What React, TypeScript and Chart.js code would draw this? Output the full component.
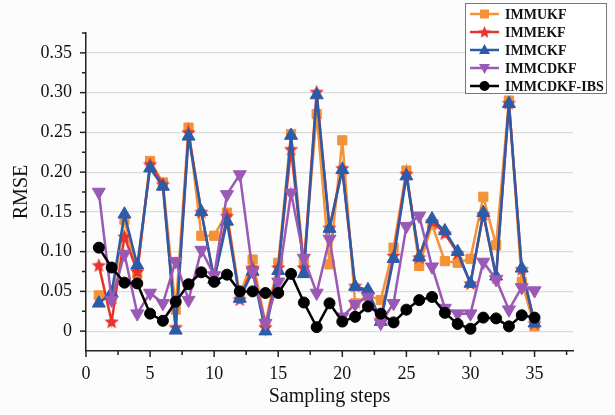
import { useEffect, useRef } from 'react';
import { Chart, registerables } from 'chart.js';

Chart.register(...registerables);

const steps = [1, 2, 3, 4, 5, 6, 7, 8, 9, 10, 11, 12, 13, 14, 15, 16, 17, 18, 19, 20, 21, 22, 23, 24, 25, 26, 27, 28, 29, 30, 31, 32, 33, 34, 35];

const immukf = [0.045, 0.040, 0.140, 0.072, 0.214, 0.187, 0.027, 0.256, 0.120, 0.120, 0.149, 0.045, 0.090, 0.010, 0.086, 0.248, 0.085, 0.273, 0.084, 0.240, 0.035, 0.045, 0.039, 0.105, 0.202, 0.082, 0.134, 0.088, 0.086, 0.091, 0.169, 0.108, 0.290, 0.062, 0.006];
const immekf = [0.083, 0.012, 0.119, 0.075, 0.210, 0.185, 0.005, 0.250, 0.150, 0.065, 0.145, 0.040, 0.080, 0.005, 0.080, 0.229, 0.080, 0.301, 0.130, 0.205, 0.057, 0.047, 0.015, 0.095, 0.198, 0.093, 0.138, 0.123, 0.098, 0.060, 0.147, 0.068, 0.287, 0.078, 0.010];
const immckf = [0.035, 0.048, 0.147, 0.083, 0.205, 0.182, 0.001, 0.245, 0.150, 0.065, 0.138, 0.041, 0.075, 0.000, 0.076, 0.246, 0.072, 0.297, 0.129, 0.203, 0.056, 0.052, 0.012, 0.091, 0.195, 0.093, 0.141, 0.126, 0.100, 0.060, 0.149, 0.069, 0.286, 0.079, 0.010];
const immcdkf = [0.175, 0.039, 0.097, 0.022, 0.048, 0.035, 0.088, 0.039, 0.102, 0.070, 0.172, 0.197, 0.075, 0.010, 0.062, 0.174, 0.092, 0.048, 0.116, 0.018, 0.034, 0.043, 0.010, 0.035, 0.132, 0.145, 0.081, 0.029, 0.022, 0.022, 0.087, 0.065, 0.027, 0.055, 0.051];
const immcdkfIbs = [0.105, 0.080, 0.061, 0.060, 0.022, 0.013, 0.037, 0.059, 0.074, 0.062, 0.071, 0.050, 0.050, 0.048, 0.048, 0.072, 0.036, 0.005, 0.035, 0.012, 0.018, 0.031, 0.022, 0.011, 0.027, 0.039, 0.043, 0.023, 0.009, 0.003, 0.017, 0.016, 0.006, 0.020, 0.017];

const seriesNames = ['IMMUKF', 'IMMEKF', 'IMMCKF', 'IMMCDKF', 'IMMCDKF-IBS'];
const seriesColors = ['#F39236', '#E8322C', '#2C5BA8', '#9B59B6', '#000000'];

const xTickStep = 2.5;
const xMin = 0;
const xMax = 38;
const yTickStep = 0.025;
const yMin = -0.025;
const yMax = 0.375;

const FONT = "'Liberation Serif', 'Times New Roman', serif";

function makeStar(size: number, color: string) {
  const c = document.createElement('canvas');
  c.width = size;
  c.height = size;
  const g = c.getContext('2d')!;
  const cx = size / 2;
  const cy = size / 2 + size * 0.04;
  const R = size / 2;
  const r = R * 0.45;
  g.beginPath();
  for (let i = 0; i < 10; i++) {
    const rad = (Math.PI / 5) * i - Math.PI / 2;
    const rr = i % 2 === 0 ? R : r;
    const px = cx + Math.cos(rad) * rr;
    const py = cy + Math.sin(rad) * rr;
    if (i === 0) g.moveTo(px, py);
    else g.lineTo(px, py);
  }
  g.closePath();
  g.fillStyle = color;
  g.fill();
  return c;
}

function isMultiple(v: number, step: number) {
  const q = v / step;
  return Math.abs(q - Math.round(q)) < 1e-6;
}

export default function App() {
  const canvasRef = useRef<HTMLCanvasElement | null>(null);

  useEffect(() => {
    const canvas = canvasRef.current;
    if (!canvas) return;
    const star = makeStar(15, seriesColors[1]);
    const legendStar = makeStar(13, seriesColors[1]);

    const toPts = (vals: number[]) => steps.map((s, i) => ({ x: s, y: vals[i] }));
    const allValues = [immukf, immekf, immckf, immcdkf, immcdkfIbs];
    const styles: any[] = [
      { pointStyle: 'rect', pointRadius: 6.5, pointRotation: 0 },
      { pointStyle: star, pointRadius: 7, pointRotation: 0 },
      { pointStyle: 'triangle', pointRadius: 7.5, pointRotation: 0 },
      { pointStyle: 'triangle', pointRadius: 7.5, pointRotation: 180 },
      { pointStyle: 'circle', pointRadius: 5.5, pointRotation: 0 },
    ];
    const orders = [4, 3, 2, 1, 0];

    const datasets = allValues.map((vals, i) => ({
      label: seriesNames[i],
      data: toPts(vals),
      borderColor: seriesColors[i],
      backgroundColor: seriesColors[i],
      pointBackgroundColor: seriesColors[i],
      pointBorderColor: seriesColors[i],
      borderWidth: 2.5,
      pointBorderWidth: 1,
      tension: 0,
      order: orders[i],
      ...styles[i],
    }));

    const decor = {
      id: 'decor',
      beforeDraw(chart: any) {
        const ctx = chart.ctx;
        ctx.save();
        ctx.fillStyle = '#fcfcfc';
        ctx.fillRect(0, 0, chart.width, chart.height);
        ctx.restore();
      },
      afterDraw(chart: any) {
        const ctx = chart.ctx;
        const xs = chart.scales.x;
        const ys = chart.scales.y;
        const area = chart.chartArea;
        ctx.save();
        ctx.strokeStyle = '#222';
        ctx.lineWidth = 1.5;
        // x tick marks
        for (let v = xMin; v <= xMax + 1e-9; v += xTickStep) {
          const px = xs.getPixelForValue(v);
          const len = isMultiple(v, 5) ? 6 : 4;
          ctx.beginPath();
          ctx.moveTo(px, area.bottom);
          ctx.lineTo(px, area.bottom + len);
          ctx.stroke();
        }
        // y tick marks
        for (let v = 0; v <= yMax + 1e-9; v += yTickStep) {
          const py = ys.getPixelForValue(v);
          const len = isMultiple(v, 0.05) ? 6 : 4;
          ctx.beginPath();
          ctx.moveTo(area.left - len, py);
          ctx.lineTo(area.left, py);
          ctx.stroke();
        }
        // legend
        const bx = 465, by = 3, bw = 142, bh = 91;
        ctx.fillStyle = '#ffffff';
        ctx.fillRect(bx, by, bw, bh);
        ctx.strokeStyle = '#777';
        ctx.lineWidth = 1;
        ctx.strokeRect(bx + 0.5, by + 0.5, bw - 1, bh - 1);
        for (let i = 0; i < seriesNames.length; i++) {
          const y = 14 + i * 18;
          const col = seriesColors[i];
          ctx.strokeStyle = col;
          ctx.fillStyle = col;
          ctx.lineWidth = 2.5;
          ctx.beginPath();
          ctx.moveTo(470, y);
          ctx.lineTo(499, y);
          ctx.stroke();
          const mx = 484.5;
          ctx.beginPath();
          if (i === 0) {
            ctx.rect(mx - 4.5, y - 4.5, 9, 9);
            ctx.fill();
          } else if (i === 1) {
            ctx.drawImage(legendStar, mx - 6.5, y - 6.5);
          } else if (i === 2) {
            ctx.moveTo(mx, y - 6);
            ctx.lineTo(mx + 5.5, y + 4);
            ctx.lineTo(mx - 5.5, y + 4);
            ctx.closePath();
            ctx.fill();
          } else if (i === 3) {
            ctx.moveTo(mx, y + 6);
            ctx.lineTo(mx + 5.5, y - 4);
            ctx.lineTo(mx - 5.5, y - 4);
            ctx.closePath();
            ctx.fill();
          } else {
            ctx.arc(mx, y, 5, 0, Math.PI * 2);
            ctx.fill();
          }
          ctx.fillStyle = '#111';
          ctx.font = `bold 14px ${FONT}`;
          ctx.textAlign = 'left';
          ctx.textBaseline = 'middle';
          ctx.fillText(seriesNames[i], 505, y + 1);
        }
        ctx.restore();
      },
    };

    const chart = new Chart(canvas, {
      type: 'line',
      data: { datasets: datasets as any },
      options: {
        animation: false,
        responsive: false,
        maintainAspectRatio: false,
        devicePixelRatio: 1,
        layout: { padding: { left: 0, top: 33, right: 42, bottom: 0 } },
        plugins: {
          legend: { display: false },
          tooltip: { enabled: false },
        },
        scales: {
          x: {
            type: 'linear',
            min: xMin,
            max: xMax,
            afterFit: (scale: any) => { scale.height = 64; },
            grid: { display: false, drawTicks: false },
            border: { display: true, color: '#222', width: 1.5 },
            ticks: {
              stepSize: xTickStep,
              autoSkip: false,
              maxRotation: 0,
              padding: 12,
              color: '#111',
              font: { family: FONT, size: 18 },
              callback: (v: any) => (isMultiple(Number(v), 5) && Number(v) <= 35 ? String(Math.round(Number(v))) : ''),
            },
            title: {
              display: true,
              text: 'Sampling steps',
              color: '#111',
              font: { family: FONT, size: 20 },
              padding: { top: 0, bottom: 6 },
            },
          },
          y: {
            type: 'linear',
            min: yMin,
            max: yMax,
            afterFit: (scale: any) => { scale.width = 86; },
            grid: {
              drawTicks: false,
              lineWidth: 1.2,
              color: (c: any) => {
                const v = c.tick ? c.tick.value : 0;
                return isMultiple(v, 0.05) && v > -1e-9 && v < 0.36 ? '#dcdcdc' : 'rgba(0,0,0,0)';
              },
            },
            border: { display: true, color: '#222', width: 1.5 },
            ticks: {
              stepSize: yTickStep,
              autoSkip: false,
              padding: 14,
              color: '#111',
              font: { family: FONT, size: 18 },
              callback: (v: any) => {
                const n = Number(v);
                if (!isMultiple(n, 0.05) || n < -1e-9) return '';
                if (Math.abs(n) < 1e-9) return '0';
                return n.toFixed(2);
              },
            },
            title: {
              display: true,
              text: 'RMSE',
              color: '#111',
              font: { family: FONT, size: 20 },
              padding: { top: 10, bottom: 0 },
            },
          },
        },
      },
      plugins: [decor],
    });

    return () => chart.destroy();
  }, []);

  return (
    <div style={{ position: 'absolute', left: 0, top: 0, width: 615, height: 415 }}>
      <canvas ref={canvasRef} width={615} height={415} style={{ width: 615, height: 415, display: 'block' }} />
    </div>
  );
}
